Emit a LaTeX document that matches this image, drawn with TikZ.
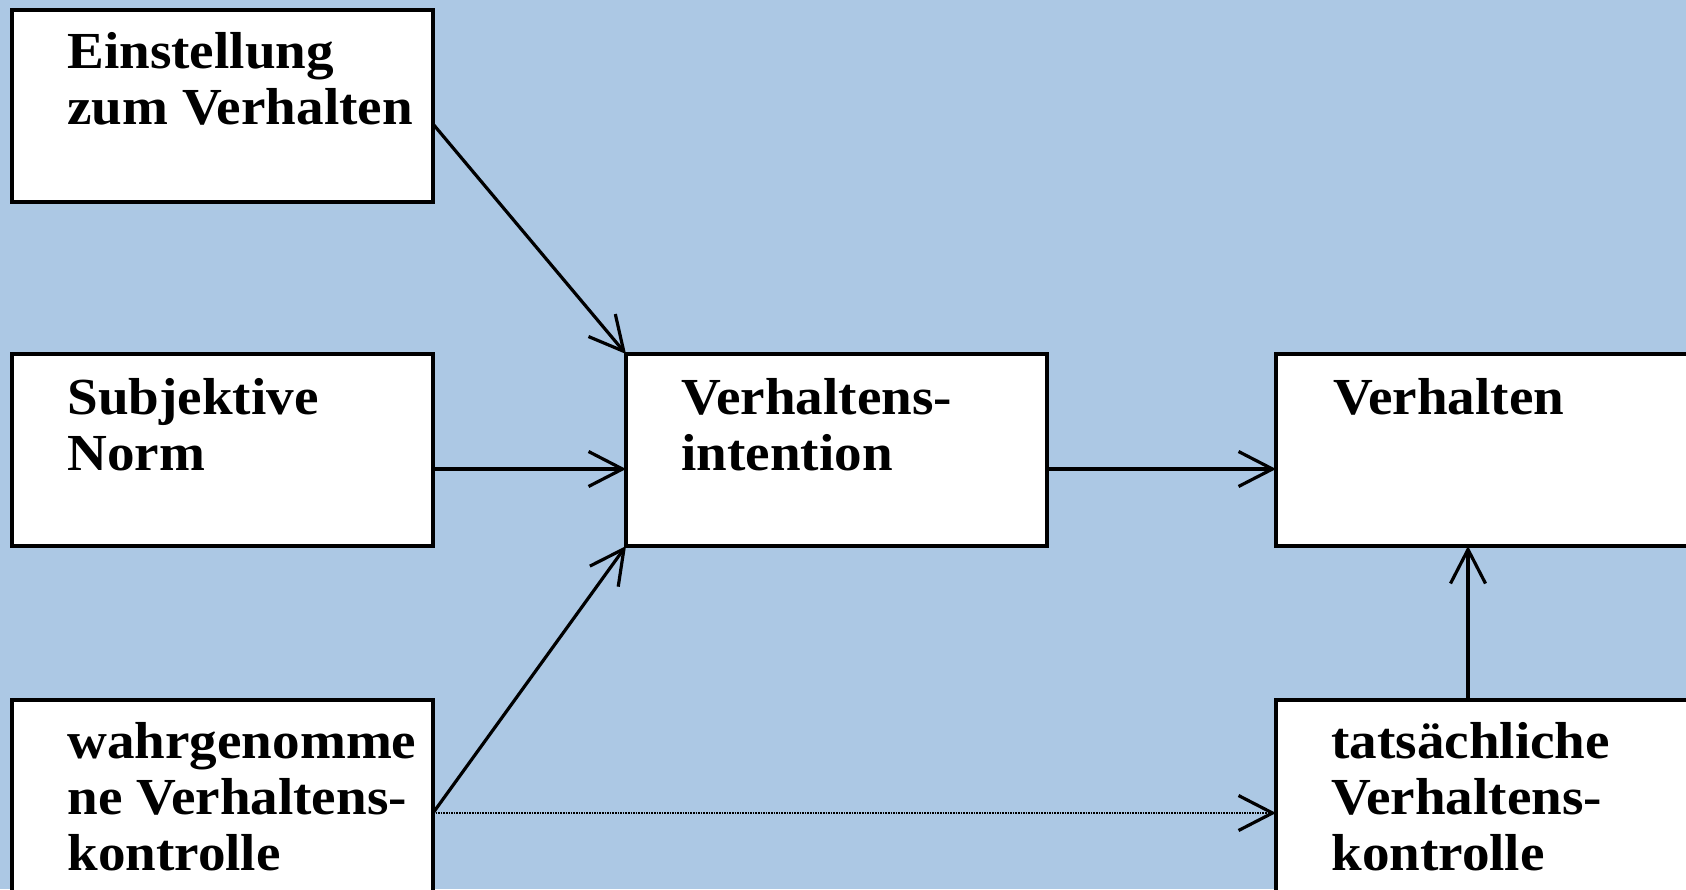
\documentclass[tikz,border=0pt]{standalone}
\usepackage{fontspec}
\setmainfont{Liberation Serif}[FakeStretch=1.06]
\usetikzlibrary{arrows.meta,calc}
\definecolor{bgblue}{RGB}{172,200,228}
\tikzset{
  box/.style={draw=black, fill=white, line width=1.8pt, rectangle, inner sep=0pt, outer sep=0pt,
    minimum width=210.5pt, minimum height=96pt, anchor=north west},
  lbl/.style={anchor=base west, inner sep=0pt, align=left,
    font=\fontsize{26}{28}\selectfont\bfseries},
  conn/.style={line width=1.6pt, -{Straight Barb[length=17pt,width=17.5pt,line width=1.6pt]}},
  dotconn/.style={line width=1.3pt, dash pattern=on 0.8pt off 0.5pt,
    -{Straight Barb[length=17pt,width=17.5pt,line width=1.6pt,sep=0pt]}}
}
\begin{document}
\begin{tikzpicture}[x=0.5pt,y=-0.5pt]
\fill[bgblue] (0,0) rectangle (1686,889);
\useasboundingbox (0,0) rectangle (1686,889);
\clip (0,0) rectangle (1686,889);
\node[box] (A) at (12,10) {};
\node[box] (B) at (12,354) {};
\node[box] (C) at (12,700) {};
\node[box] (D) at (626,354) {};
\node[box] (E) at (1276,354) {};
\node[box] (F) at (1276,700) {};
% base anchor = baseline of the last line
\node[lbl] (tA) at ($(A.north west)+(55,114)$) {Einstellung\\zum Verhalten};
\node[lbl] (tB) at ($(B.north west)+(55,116)$) {Subjektive\\Norm};
\node[lbl] (tC) at ($(C.north west)+(55,170)$) {wahrgenomme\\ne Verhaltens-\\kontrolle};
\node[lbl] (tD) at ($(D.north west)+(55,116)$) {Verhaltens-\\intention};
\node[lbl] (tE) at ($(E.north west)+(57,60)$) {Verhalten};
\node[lbl] (tF) at ($(F.north west)+(55,170)$) {tatsächliche\\Verhaltens-\\kontrolle};
\draw[conn] ($(A.north east)+(0,114)$) -- (D.north west);
\draw[conn] ($(B.north east)+(0,115)$) -- ($(D.north west)+(0,115)$);
\draw[conn] ($(C.north east)+(0,113)$) -- (D.south west);
\draw[conn] ($(D.north east)+(0,115)$) -- ($(E.north west)+(0,115)$);
\draw[dotconn] ($(C.north east)+(0,113)$) -- ($(F.north west)+(0,113)$);
\draw[conn] ($(F.north west)+(192,0)$) -- ($(E.south west)+(192,0)$);
\end{tikzpicture}
\end{document}
